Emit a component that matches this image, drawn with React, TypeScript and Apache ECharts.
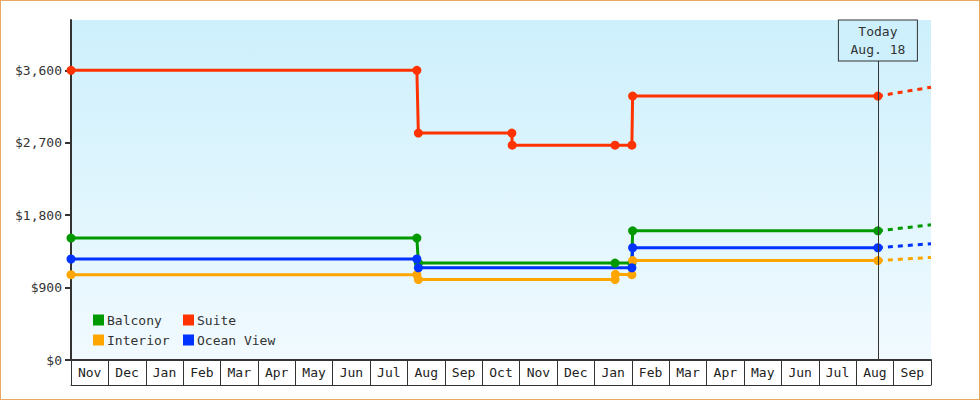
import { useEffect, useRef } from 'react'
import * as echarts from 'echarts'

// month boxes along the bottom
const months = [
  'Nov', 'Dec', 'Jan', 'Feb', 'Mar', 'Apr', 'May', 'Jun', 'Jul', 'Aug', 'Sep', 'Oct',
  'Nov', 'Dec', 'Jan', 'Feb', 'Mar', 'Apr', 'May', 'Jun', 'Jul', 'Aug', 'Sep'
]
const priceTicks = [0, 900, 1800, 2700, 3600]

// x is in months from the left edge of the first box
const balcony = [
  [0, 1515], [9.25, 1515], [9.29, 1205], [14.55, 1205], [15.0, 1205], [15.02, 1605], [21.58, 1605]
]
const suite = [
  [0, 3600], [9.25, 3600], [9.29, 2820], [11.79, 2820], [11.8, 2670], [14.55, 2670],
  [15.0, 2670], [15.02, 3280], [21.58, 3280]
]
const interior = [
  [0, 1060], [9.25, 1060], [9.29, 1000], [14.55, 1000], [14.56, 1065], [15.0, 1060],
  [15.02, 1235], [21.58, 1235]
]
const oceanView = [
  [0, 1255], [9.25, 1255], [9.29, 1145], [15.0, 1145], [15.02, 1395], [21.58, 1395]
]

// dashed projections past today
const balconyNext = [[21.58, 1605], [23, 1680]]
const suiteNext = [[21.58, 3280], [23, 3390]]
const interiorNext = [[21.58, 1235], [23, 1275]]
const oceanViewNext = [[21.58, 1395], [23, 1445]]

const today = 21.58
const todayLabel = 'Today\nAug. 18'
const yMax = 4225

const colors = {
  Balcony: '#009900',
  Suite: '#ff3300',
  Interior: '#ffa500',
  'Ocean View': '#0033ff'
}

const font = 'DejaVu Sans Mono'

export default function App() {
  const ref = useRef<HTMLDivElement>(null)

  useEffect(() => {
    if (!ref.current) return
    const chart = echarts.init(ref.current, undefined, { renderer: 'svg' })
    chart.setOption(buildOption())
    return () => chart.dispose()
  }, [])

  return (
    <div
      style={{
        position: 'fixed',
        left: 0,
        top: 0,
        width: 980,
        height: 400,
        boxSizing: 'border-box',
        border: '1px solid #e8a860',
        background: '#fff'
      }}
    >
      <div ref={ref} style={{ width: '100%', height: '100%' }} />
    </div>
  )
}

function stepSeries(name: keyof typeof colors, data: number[][]) {
  return {
    name,
    type: 'line',
    xAxisIndex: 0,
    data,
    symbol: 'circle',
    symbolSize: 9,
    itemStyle: { color: colors[name] },
    lineStyle: { color: colors[name], width: 3 },
    z: 3
  }
}

function dashSeries(name: keyof typeof colors, data: number[][]) {
  return {
    name,
    type: 'line',
    xAxisIndex: 0,
    data,
    symbol: 'none',
    itemStyle: { color: colors[name] },
    lineStyle: { color: colors[name], width: 3, type: [5, 5] },
    z: 3
  }
}

function buildOption() {
  const legendBase = {
    orient: 'vertical',
    icon: 'rect',
    itemWidth: 11,
    itemHeight: 11,
    itemGap: 4,
    padding: 0,
    selectedMode: false,
    textStyle: { fontFamily: font, fontSize: 13, color: '#333', lineHeight: 16, padding: [0, 0, 0, -2] }
  }

  return {
    animation: false,
    textStyle: { fontFamily: font },
    grid: {
      left: 70,
      top: 19,
      right: 48,
      bottom: 39,
      show: true,
      borderWidth: 0,
      backgroundColor: new echarts.graphic.LinearGradient(0, 0, 0, 1, [
        { offset: 0, color: '#cdf0fc' },
        { offset: 1, color: '#f1faff' }
      ])
    },
    legend: [
      { ...legendBase, left: 92, top: 311, data: ['Balcony', 'Interior'] },
      { ...legendBase, left: 182, top: 311, data: ['Suite', 'Ocean View'] }
    ],
    xAxis: [
      { type: 'value', position: 'bottom', min: 0, max: 23, show: false },
      {
        type: 'category',
        position: 'bottom',
        data: months,
        boundaryGap: true,
        axisLine: { lineStyle: { color: '#333', width: 2 } },
        axisTick: { show: true, interval: 0, length: 25, lineStyle: { color: '#333', width: 1 } },
        axisLabel: { interval: 0, margin: 6, color: '#222', fontSize: 13, fontFamily: font },
        splitLine: { show: false }
      },
      {
        type: 'category',
        data: months,
        position: 'bottom',
        offset: 25,
        axisLine: { lineStyle: { color: '#333', width: 1 } },
        axisTick: { show: false },
        axisLabel: { show: false },
        splitLine: { show: false }
      }
    ],
    yAxis: {
      type: 'value',
      min: 0,
      max: yMax,
      axisLine: { show: true, lineStyle: { color: '#333', width: 2 } },
      axisTick: { show: true, length: 6, customValues: priceTicks, lineStyle: { color: '#333', width: 2 } },
      axisLabel: {
        customValues: priceTicks,
        margin: 9,
        color: '#333',
        fontSize: 13,
        fontFamily: font,
        formatter: (v: number) => '$' + v.toLocaleString('en-US')
      },
      splitLine: { show: false }
    },
    series: [
      stepSeries('Balcony', balcony),
      stepSeries('Suite', suite),
      stepSeries('Interior', interior),
      stepSeries('Ocean View', oceanView),
      dashSeries('Balcony', balconyNext),
      dashSeries('Suite', suiteNext),
      dashSeries('Interior', interiorNext),
      dashSeries('Ocean View', oceanViewNext),
      {
        name: 'today',
        type: 'scatter',
        xAxisIndex: 0,
        data: [[today, yMax]],
        symbolSize: 1,
        itemStyle: { color: 'rgba(0,0,0,0)', opacity: 1 },
        silent: true,
        z: 5,
        label: {
          show: true,
          position: 'bottom',
          distance: 0,
          formatter: todayLabel,
          fontFamily: font,
          fontSize: 13,
          color: '#333',
          opacity: 1,
          lineHeight: 18,
          width: 78,
          height: 36,
          align: 'center',
          padding: [2, 0],
          backgroundColor: '#cdf0fc',
          borderColor: '#333',
          borderWidth: 1
        },
        markLine: {
          silent: true,
          symbol: ['none', 'none'],
          label: { show: false },
          lineStyle: { color: '#333', width: 1, type: 'solid' },
          data: [{ xAxis: today }]
        }
      }
    ]
  }
}
